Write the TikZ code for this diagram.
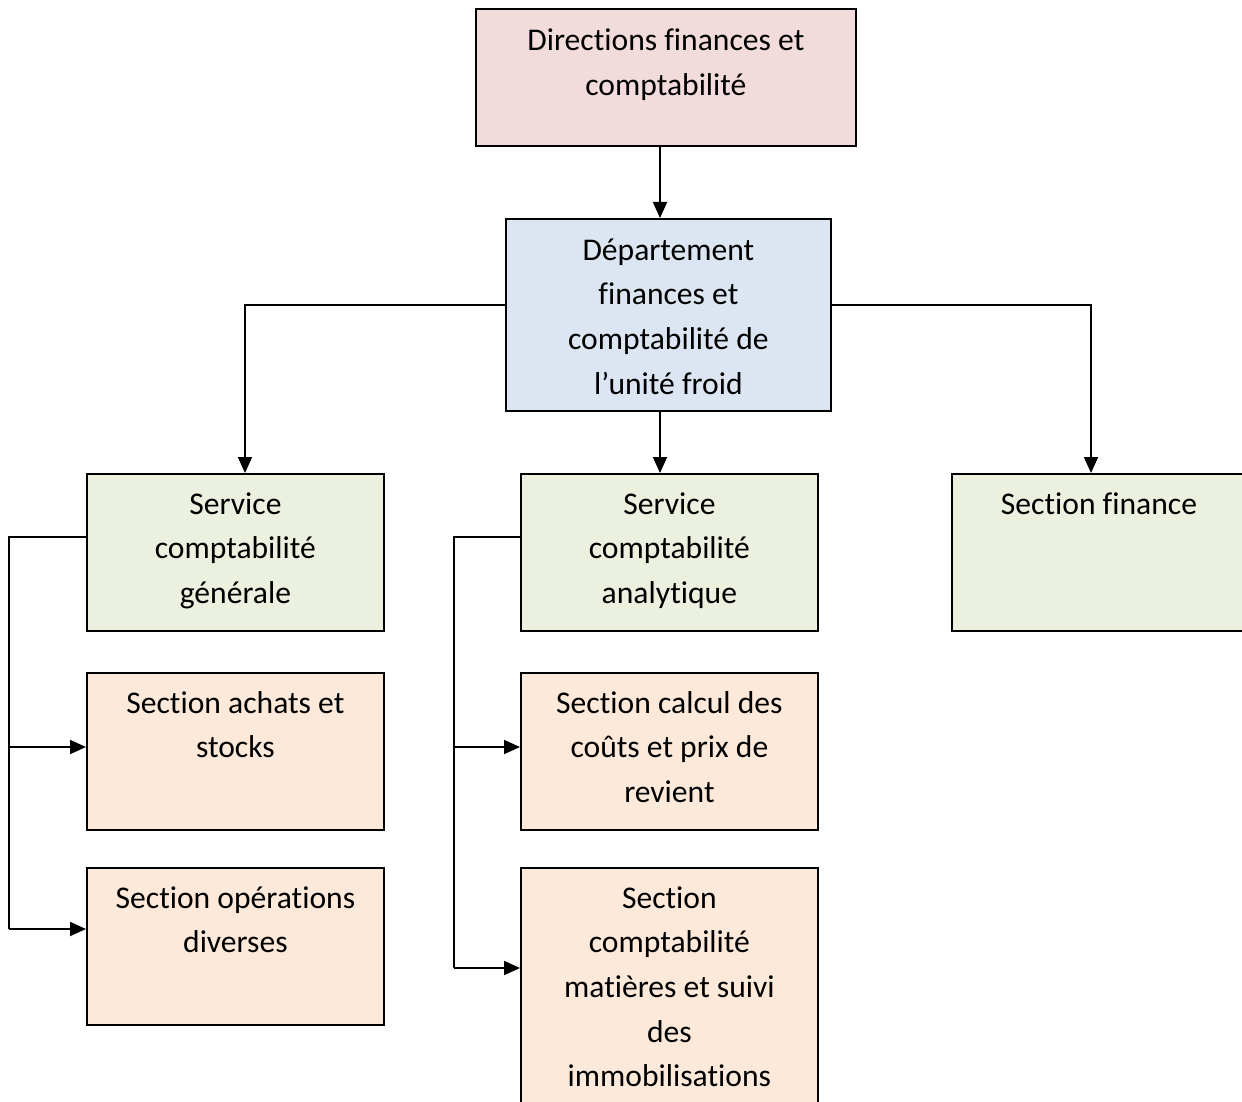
\documentclass[tikz,border=0pt]{standalone}
\usepackage{fontspec}
\setmainfont{Carlito}[Ligatures=NoCommon]
\usetikzlibrary{arrows.meta,calc}

\definecolor{dirfill}{RGB}{242,220,219}
\definecolor{depfill}{RGB}{220,230,242}
\definecolor{srvfill}{RGB}{235,241,222}
\definecolor{secfill}{RGB}{253,233,217}

\begin{document}
\begin{tikzpicture}[x=1pt,y=-1pt,
  box/.style={draw=black, line width=1.8pt, rectangle, inner sep=0pt, anchor=north west},
  lbl/.style={anchor=base, inner sep=0pt, align=flush center,
    font=\fontsize{31.6}{44.7}\selectfont},
  link/.style={line width=1.8pt},
  arr/.style={link, -{Triangle[length=16pt,width=14pt]}}]

\clip (0,0) rectangle (1242,1102);
\fill[white] (0,0) rectangle (1242,1102);

% boxes
\node[box, fill=dirfill, minimum width=380pt, minimum height=137pt] (dir) at (475,8) {};
\node[box, fill=depfill, minimum width=325pt, minimum height=192pt] (dep) at (505,218) {};
\node[box, fill=srvfill, minimum width=297pt, minimum height=157pt] (sg) at (86,473) {};
\node[box, fill=srvfill, minimum width=297pt, minimum height=157pt] (sa) at (520,473) {};
\node[box, fill=srvfill, minimum width=320pt, minimum height=157pt] (sf) at (951,473) {};
\node[box, fill=secfill, minimum width=297pt, minimum height=157pt] (ach) at (86,672) {};
\node[box, fill=secfill, minimum width=297pt, minimum height=157pt] (ops) at (86,867) {};
\node[box, fill=secfill, minimum width=297pt, minimum height=157pt] (cal) at (520,672) {};
\node[box, fill=secfill, minimum width=297pt, minimum height=260pt] (mat) at (520,867) {};

% labels
\node[lbl, text width=380pt] (tdir) at ($(dir.north)+(0,43)$) {Directions finances et\\comptabilité};
\node[lbl, text width=325pt] (tdep) at ($(dep.north)+(0,42)$) {Département\\finances et\\comptabilité de\\l’unité froid};
\node[lbl, text width=297pt] (tsg) at ($(sg.north)+(0,41)$) {Service\\comptabilité\\générale};
\node[lbl, text width=297pt] (tsa) at ($(sa.north)+(0,41)$) {Service\\comptabilité\\analytique};
\node[lbl, text width=297pt] (tsf) at (1099,514) {Section finance};
\node[lbl, text width=297pt] (tach) at ($(ach.north)+(0,41)$) {Section achats et\\stocks};
\node[lbl, text width=297pt] (tops) at ($(ops.north)+(0,41)$) {Section opérations\\diverses};
\node[lbl, text width=297pt] (tcal) at ($(cal.north)+(0,41)$) {Section calcul des\\coûts et prix de\\revient};
\node[lbl, text width=297pt] (tmat) at ($(mat.north)+(0,41)$) {Section\\comptabilité\\matières et suivi\\des\\immobilisations};

% connector points
\coordinate (dirB) at (660,145);
\coordinate (depT) at (660,218);
\coordinate (depL) at (505,305);
\coordinate (depR) at (830,305);
\coordinate (depB) at (660,410);
\coordinate (sgT) at (245,473);
\coordinate (saT) at (660,473);
\coordinate (sfT) at (1091,473);
\coordinate (sgL) at (86,537);
\coordinate (saL) at (520,537);
\coordinate (gbus) at (9,537);
\coordinate (abus) at (454,537);
\coordinate (achL) at (86,747);
\coordinate (opsL) at (86,929);
\coordinate (calL) at (520,747);
\coordinate (matL) at (520,968);

% connectors
\draw[arr] (dirB) -- (depT);
\draw[arr] (depL) -| (sgT);
\draw[arr] (depR) -| (sfT);
\draw[arr] (depB) -- (saT);

\draw[link] (sgL) -- (gbus) -- (gbus |- opsL);
\draw[arr] (gbus |- achL) -- (achL);
\draw[arr] (gbus |- opsL) -- (opsL);

\draw[link] (saL) -- (abus) -- (abus |- matL);
\draw[arr] (abus |- calL) -- (calL);
\draw[arr] (abus |- matL) -- (matL);
\end{tikzpicture}
\end{document}
